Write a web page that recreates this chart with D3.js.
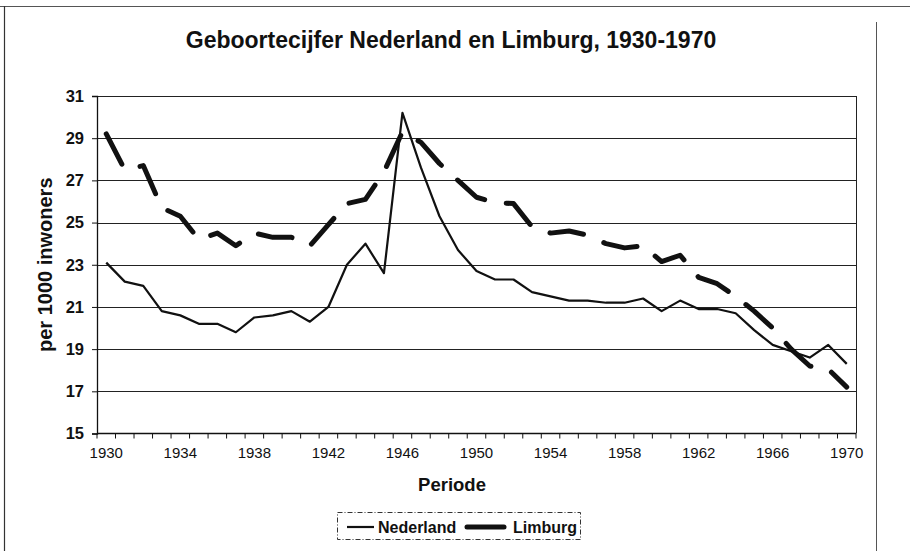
<!DOCTYPE html>
<html><head><meta charset="utf-8">
<script src="https://cdn.jsdelivr.net/npm/d3@7"></script>
<style>
body{margin:0;background:#fff;}
text{font-family:"Liberation Sans",Arial,sans-serif;fill:#111;}
</style></head>
<body><svg id="c" width="910" height="551"></svg>
<script>
const years = [1930,1931,1932,1933,1934,1935,1936,1937,1938,1939,1940,1941,1942,1943,1944,1945,1946,1947,1948,1949,1950,1951,1952,1953,1954,1955,1956,1957,1958,1959,1960,1961,1962,1963,1964,1965,1966,1967,1968,1969,1970];
const nederland = [23.1,22.2,22.0,20.8,20.6,20.2,20.2,19.8,20.5,20.6,20.8,20.3,21.0,23.0,24.0,22.6,30.2,27.6,25.3,23.7,22.7,22.3,22.3,21.7,21.5,21.3,21.3,21.2,21.2,21.4,20.8,21.3,20.9,20.9,20.7,19.9,19.2,18.9,18.6,19.2,18.3];
const limburg = [29.2,27.5,27.7,25.7,25.3,24.2,24.5,23.9,24.5,24.3,24.3,23.9,24.9,25.9,26.1,27.4,29.3,28.8,27.8,27.0,26.2,25.95,25.9,24.8,24.5,24.6,24.4,24.0,23.8,23.9,23.15,23.45,22.4,22.1,21.5,20.8,20.0,19.0,18.2,18.05,17.2];
const yTicks = [15,17,19,21,23,25,27,29,31];
const xLabelYears = [1930,1934,1938,1942,1946,1950,1954,1958,1962,1966,1970];
const seriesNames = ["Nederland","Limburg"];
const titleText = "Geboortecijfer Nederland en Limburg, 1930-1970";
const yTitle = "per 1000 inwoners";
const xTitle = "Periode";

const svg = d3.select("#c");
const L = 97, R = 856, T = 96, B = 433.5;

// outer frame
svg.append("line").attr("x1",0).attr("x2",910).attr("y1",6.5).attr("y2",6.5).attr("stroke","#555").attr("stroke-width",1);
svg.append("line").attr("x1",4.5).attr("x2",4.5).attr("y1",6).attr("y2",551).attr("stroke","#333").attr("stroke-width",1.2);
svg.append("line").attr("x1",876.5).attr("x2",876.5).attr("y1",22).attr("y2",551).attr("stroke","#555").attr("stroke-width",1);

const x = d3.scaleBand().domain(years).range([L,R]).padding(0);
const y = d3.scaleLinear().domain([15,31]).range([B,T]);
const cx = d => x(d) + x.bandwidth()/2;

// gridlines
svg.append("g").selectAll("line").data(yTicks.filter(t=>t>15)).join("line")
  .attr("x1",L).attr("x2",R).attr("y1",d=>Math.round(y(d))+0.5).attr("y2",d=>Math.round(y(d))+0.5)
  .attr("stroke","#222").attr("stroke-width",1);
svg.append("line").attr("x1",R+0.5).attr("x2",R+0.5).attr("y1",T).attr("y2",B).attr("stroke","#222");

// y axis
const yAxis = d3.axisLeft(y).tickValues(yTicks).tickSize(5).tickPadding(8).tickFormat(d3.format("d"));
const gy = svg.append("g").attr("transform",`translate(${L},0)`).call(yAxis);
gy.select(".domain").attr("stroke","#111").attr("stroke-width",1.3);
gy.selectAll(".tick line").attr("stroke","#111");
gy.selectAll("text").attr("font-size",16.5).attr("font-weight","bold").attr("fill","#111").attr("font-family","Liberation Sans, Arial, sans-serif");

// x axis (band boundaries as ticks)
const boundaries = years.map(d=>x(d)).concat([R]);
svg.append("line").attr("x1",L).attr("x2",R).attr("y1",B).attr("y2",B).attr("stroke","#111").attr("stroke-width",1.3);
svg.append("g").selectAll("line").data(boundaries).join("line")
  .attr("x1",d=>d).attr("x2",d=>d).attr("y1",B).attr("y2",B+5).attr("stroke","#111");
svg.append("g").selectAll("text").data(xLabelYears).join("text")
  .attr("x",d=>cx(d)).attr("y",458).attr("text-anchor","middle").attr("font-size",15).text(d=>d);

// lines
const line = vals => d3.line().x((d,i)=>cx(years[i])).y(d=>y(d))(vals);
svg.append("path").attr("d",line(limburg)).attr("fill","none").attr("stroke","#111")
  .attr("stroke-width",5).attr("stroke-dasharray","34 22").attr("stroke-linecap","round").attr("stroke-linejoin","round");
svg.append("path").attr("d",line(nederland)).attr("fill","none").attr("stroke","#111")
  .attr("stroke-width",2.2).attr("stroke-linejoin","round");

// titles
svg.append("text").attr("x",451).attr("y",48).attr("text-anchor","middle").attr("font-size",23).attr("font-weight","bold").text(titleText);
svg.append("text").attr("x",452).attr("y",491).attr("text-anchor","middle").attr("font-size",18.5).attr("font-weight","bold").text(xTitle);
svg.append("text").attr("transform",`translate(52,${(T+B)/2}) rotate(-90)`).attr("text-anchor","middle").attr("font-size",20).attr("font-weight","bold").text(yTitle);

// legend
const lg = svg.append("g");
lg.append("rect").attr("x",337.5).attr("y",512.5).attr("width",243).attr("height",27)
  .attr("fill","none").attr("stroke","#333").attr("stroke-width",1).attr("stroke-dasharray","5 2 1 2");
lg.append("line").attr("x1",347).attr("x2",374).attr("y1",527).attr("y2",527).attr("stroke","#111").attr("stroke-width",2.2);
lg.append("text").attr("x",378).attr("y",532.5).attr("font-size",16).attr("font-weight","bold").text(seriesNames[0]);
lg.append("line").attr("x1",467).attr("x2",504).attr("y1",527).attr("y2",527).attr("stroke","#111").attr("stroke-width",5).attr("stroke-linecap","round");
lg.append("text").attr("x",513).attr("y",532.5).attr("font-size",16).attr("font-weight","bold").text(seriesNames[1]);
</script></body></html>
